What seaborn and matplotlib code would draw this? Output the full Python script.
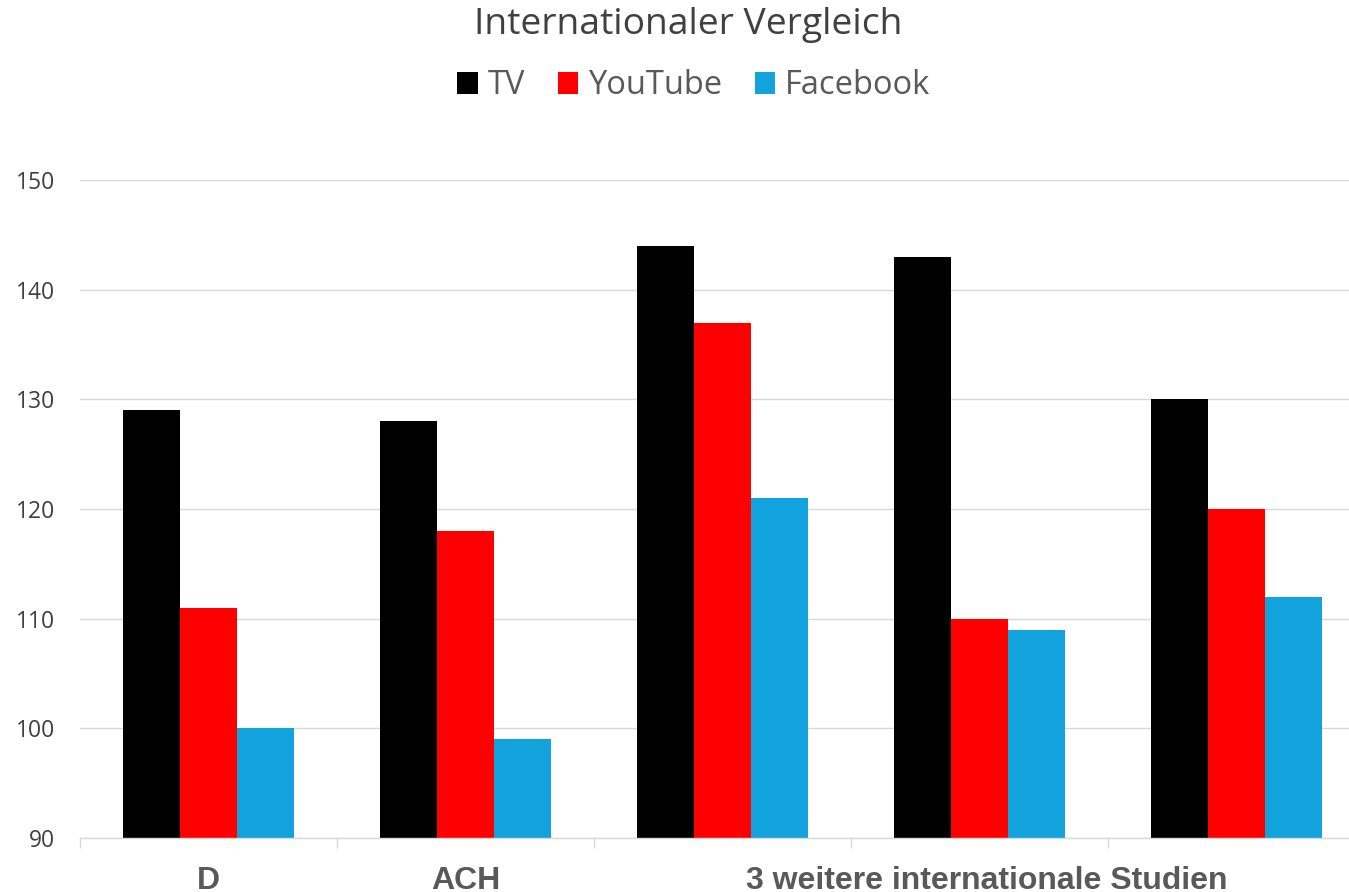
import matplotlib
matplotlib.use("Agg")
import matplotlib.pyplot as plt
from matplotlib.patches import Patch
import seaborn as sns
import pandas as pd

# Data
groups = ["D", "ACH", "Studie 1", "Studie 2", "Studie 3"]
media = ["TV", "YouTube", "Facebook"]
tv = [129, 128, 144, 143, 130]
youtube = [111, 118, 137, 110, 120]
facebook = [100, 99, 121, 109, 112]
colors = ["#000000", "#FF0000", "#12A3DC"]
yticks = [90, 100, 110, 120, 130, 140, 150]
xlabel_pos = [0, 1, 3.03]
xlabel_text = ["D", "ACH", "3 weitere internationale Studien"]

df = pd.DataFrame({
    "Gruppe": groups * 3,
    "Medium": [m for m in media for _ in groups],
    "Wert": tv + youtube + facebook,
})

sns.set_style("white")
plt.rcParams["font.family"] = ["Open Sans", "DejaVu Sans"]

fig = plt.figure(figsize=(13.49, 8.92), dpi=100)
ax = fig.add_axes([80 / 1349, 1 - 838 / 892, (1365 - 80) / 1349, (838 - 180) / 892])

sns.barplot(data=df, x="Gruppe", y="Wert", hue="Medium", order=groups,
            hue_order=media, palette=colors, saturation=1, width=0.666, gap=0,
            edgecolor="none", linewidth=0, ax=ax, legend=False)

ax.set_ylim(90, 150)
ax.set_xlim(-0.5, 4.5)
ax.set_yticks(yticks)
ax.set_yticklabels([str(v) for v in yticks], fontsize=16.5, color="#404040")
ax.yaxis.grid(True, color="#D9D9D9", linewidth=1)
ax.set_axisbelow(True)
ax.tick_params(axis="y", length=0, pad=18)

ax.set_xticks(xlabel_pos)
ax.set_xticklabels(xlabel_text, fontsize=23, fontweight="bold", color="#595959",
                   family=["Liberation Sans", "DejaVu Sans"])
ax.set_xticks([i - 0.5 for i in range(len(groups) + 1)], minor=True)
ax.tick_params(axis="x", which="major", bottom=False, length=0, pad=20)
ax.tick_params(axis="x", which="minor", bottom=True, length=7, color="#D9D9D9", width=1)

ax.set_xlabel("")
ax.set_ylabel("")
for side in ["top", "right", "left"]:
    ax.spines[side].set_visible(False)
ax.spines["bottom"].set_color("#D9D9D9")
ax.spines["bottom"].set_linewidth(1)

fig.text(688 / 1349, 1 - 25 / 892, "Internationaler Vergleich", ha="center", va="center",
         fontsize=26.8, color="#404040")

handles = [Patch(facecolor=c, edgecolor="none") for c in colors]
fig.legend(handles, media, loc="center", bbox_to_anchor=(694 / 1349, 1 - 86 / 892), ncol=3,
           frameon=False, fontsize=23.5, labelcolor="#595959", handlelength=0.62,
           handleheight=0.62, handletextpad=0.31, columnspacing=1.0)

fig.savefig("out.png", dpi=100)
